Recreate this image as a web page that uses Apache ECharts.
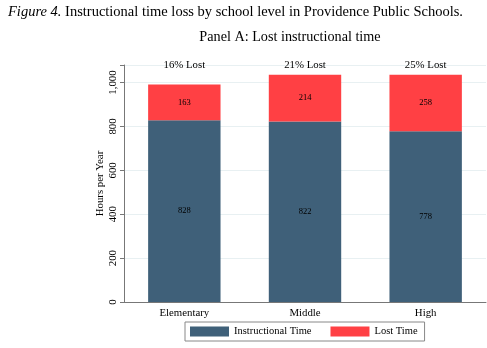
<!DOCTYPE html>
<html><head><meta charset="utf-8">
<script src="https://cdn.jsdelivr.net/npm/echarts@6/dist/echarts.min.js"></script>
<style>html,body{margin:0;padding:0;background:#fff}#c{width:487px;height:348px}</style>
</head><body><div id="c"></div>
<script>
const categories = ['Elementary', 'Middle', 'High'];
const instructional = [828, 822, 778];
const lost = [163, 214, 258];
const pctLabels = ['16% Lost', '21% Lost', '25% Lost'];
const yTicks = [0, 200, 400, 600, 800, 1000];

const font = '"Liberation Serif", "Times New Roman", serif';
const chart = echarts.init(document.getElementById('c'));
chart.setOption({
  animation: false,
  textStyle: { fontFamily: font },
  title: [{
    text: '{i|Figure 4.} Instructional time loss by school level in Providence Public Schools.',
    left: 8, top: 5, padding: 0,
    textStyle: { fontFamily: font, fontSize: 14.5, fontWeight: 'normal', color: '#000',
      rich: { i: { fontStyle: 'italic', fontFamily: font, fontSize: 14.5, color: '#000' } } }
  }, {
    text: 'Panel A: Lost instructional time',
    left: 290, top: 30, textAlign: 'center', padding: 0,
    textStyle: { fontFamily: font, fontSize: 14.2, fontWeight: 'normal', color: '#000' }
  }],
  grid: { left: 124, right: 1, top: 65, bottom: 46, containLabel: false },
  xAxis: [{
    type: 'category', data: categories,
    axisLine: { lineStyle: { color: '#777' } },
    axisTick: { show: false },
    axisLabel: { color: '#000', fontFamily: font, fontSize: 10.8, margin: 6 }
  }, {
    type: 'category', data: pctLabels, position: 'top',
    axisLine: { show: false }, axisTick: { show: false },
    axisLabel: { color: '#000', fontFamily: font, fontSize: 10.8, margin: -6 }
  }],
  yAxis: {
    type: 'value', min: 0, max: 1080, interval: 200,
    axisLine: { show: true, lineStyle: { color: '#777' } },
    axisTick: { show: true, length: 4, lineStyle: { color: '#777' } },
    splitLine: { lineStyle: { color: '#e8f0f2' } },
    axisLabel: {
      color: '#000', fontFamily: font, fontSize: 10.8, rotate: 90, margin: 5,
      formatter: v => yTicks.includes(v) ? v.toLocaleString('en-US') : ''
    },
    name: 'Hours per Year', nameLocation: 'middle', nameGap: 18, nameMoveOverlap: false,
    nameTextStyle: { color: '#000', fontFamily: font, fontSize: 10.8 }
  },
  legend: {
    data: ['Instructional Time', 'Lost Time'],
    left: 185, top: 322,
    itemWidth: 39, itemHeight: 10, itemGap: 19,
    borderColor: '#888', borderWidth: 1, borderRadius: 0,
    padding: [4, 7, 4, 5],
    icon: 'rect',
    textStyle: { color: '#000', fontFamily: font, fontSize: 10.5 }
  },
  series: [{
    name: 'Instructional Time', type: 'bar', stack: 's', data: instructional,
    barWidth: '60%',
    itemStyle: { color: '#3f6079' },
    label: { show: true, position: 'inside', color: '#000', fontFamily: font, fontSize: 8.5 }
  }, {
    name: 'Lost Time', type: 'bar', stack: 's', data: lost,
    barWidth: '60%',
    itemStyle: { color: '#ff4044' },
    label: { show: true, position: 'inside', color: '#000', fontFamily: font, fontSize: 8.5 }
  }]
});
</script></body></html>
